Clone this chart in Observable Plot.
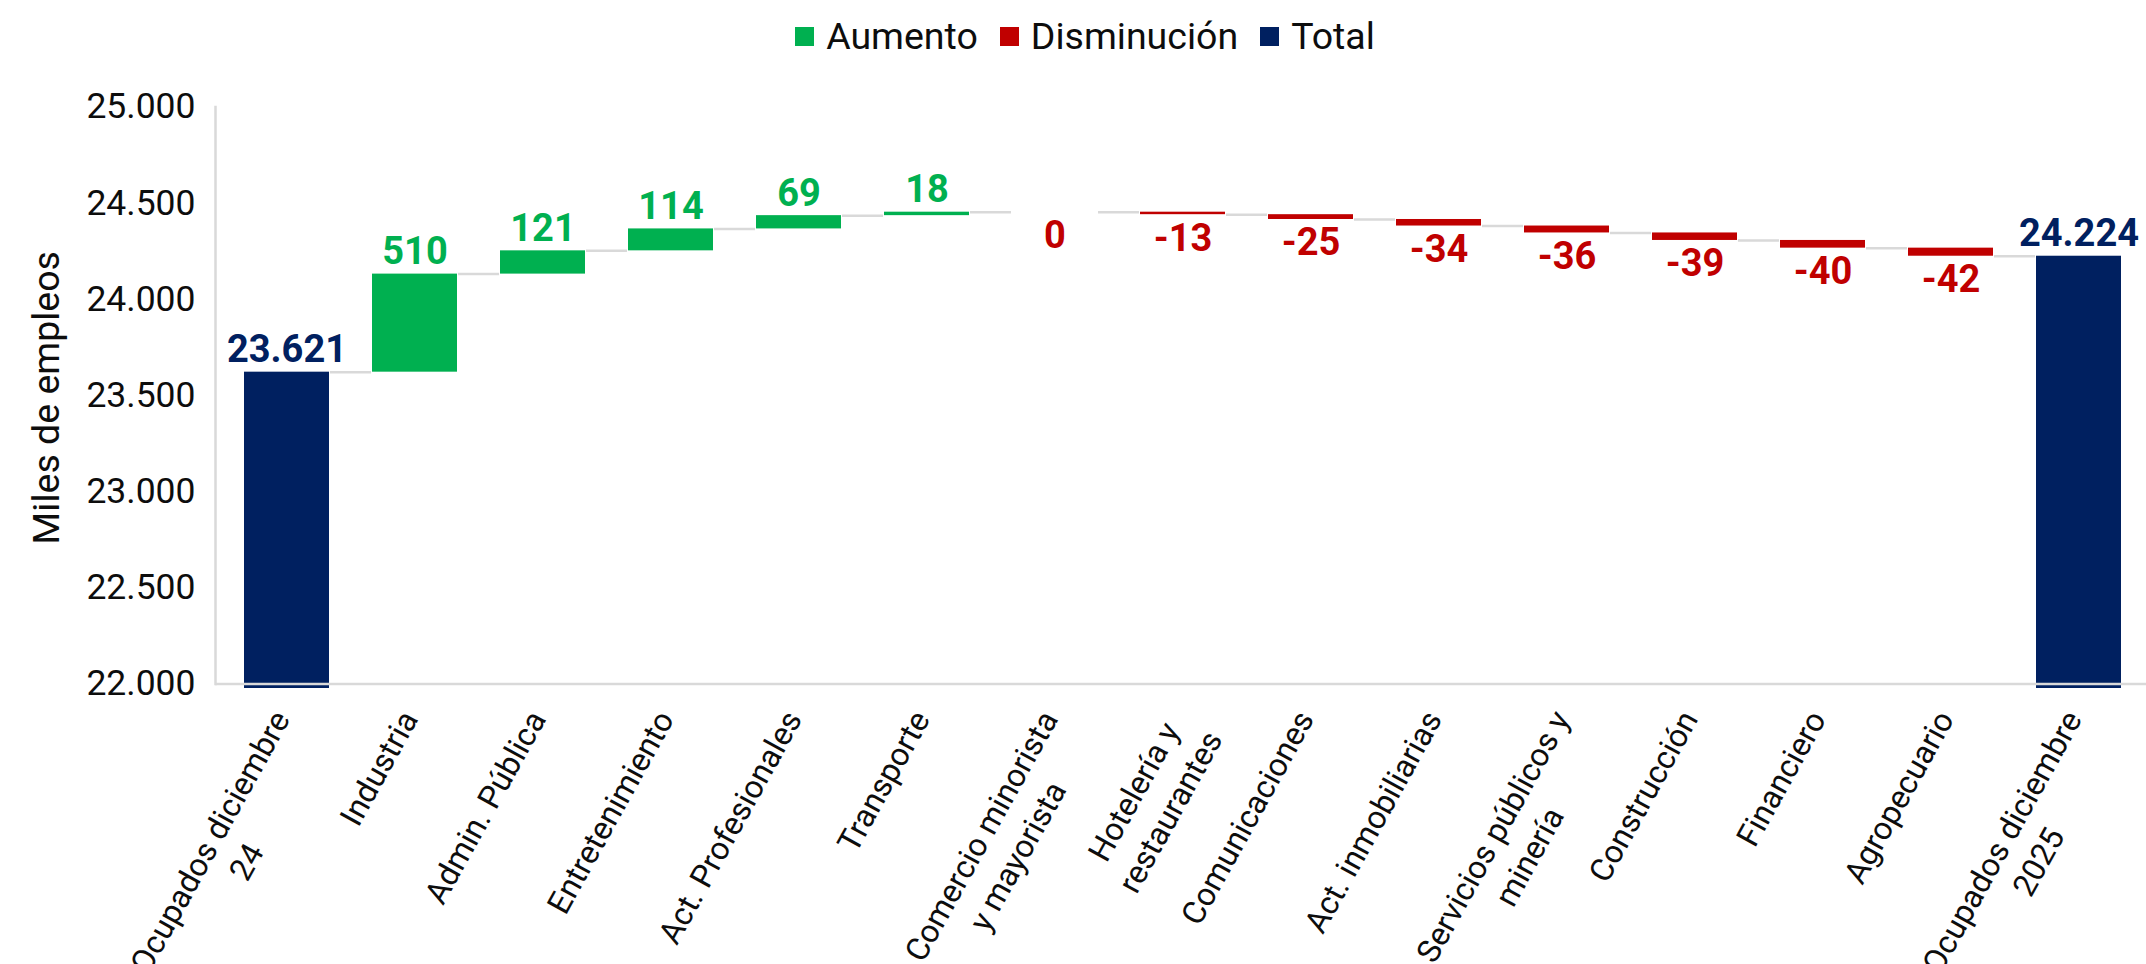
<!DOCTYPE html>
<html>
<head>
<meta charset="utf-8">
<script src="https://cdn.jsdelivr.net/npm/d3@7"></script>
<script src="https://cdn.jsdelivr.net/npm/@observablehq/plot@0.6"></script>
<style>
html, body { margin: 0; padding: 0; background: #fff; }
body { width: 2146px; height: 964px; overflow: hidden; font-family: Roboto, sans-serif; }
#legend { height: 72px; display: flex; align-items: center; justify-content: center; padding-left: 46px; box-sizing: border-box; font-size: 37.5px; color: #0d0d0d; }
.item { display: flex; align-items: center; margin-right: 22px; }
.sw { width: 19px; height: 19px; margin-right: 12px; }
</style>
</head>
<body>
<div id="legend"></div>
<div id="chart"></div>
<script>
// ---- data ----
const categories = [
  "Ocupados diciembre\n24", "Industria", "Admin. Pública", "Entretenimiento",
  "Act. Profesionales", "Transporte", "Comercio minorista\ny mayorista",
  "Hotelería y\nrestaurantes", "Comunicaciones", "Act. inmobiliarias",
  "Servicios públicos y\nminería", "Construcción", "Financiero", "Agropecuario",
  "Ocupados diciembre\n2025"
];
const startTotal = 23621;
const changes = [510, 121, 114, 69, 18, 0, -13, -25, -34, -36, -39, -40, -42];
const endTotal = 24224;
const seriesNames = ["Aumento", "Disminución", "Total"];
const seriesColors = ["#00B050", "#C00000", "#002060"];
const yTicks = [22000, 22500, 23000, 23500, 24000, 24500, 25000];
const yTitle = "Miles de empleos";

// ---- derived table ----
const fmt = d3.formatLocale({decimal: ",", thousands: ".", grouping: [3], currency: ["", ""], minus: "-"}).format(",d");
const rows = [];
let level = startTotal;
rows.push({cat: categories[0], type: "Total", y1: 0, y2: startTotal, value: startTotal});
changes.forEach((c, i) => {
  rows.push({cat: categories[i + 1], type: c > 0 ? "Aumento" : "Disminución", y1: level, y2: level + c, value: c});
  level += c;
});
rows.push({cat: categories[categories.length - 1], type: "Total", y1: 0, y2: endTotal, value: endTotal});
rows.forEach(r => { r.top = Math.max(r.y1, r.y2); r.bottom = Math.min(r.y1, r.y2); });
const conns = rows.slice(0, -1).map((r, i) => ({a: r.cat, b: rows[i + 1].cat, y: r.y2}));
const up = rows.filter(r => r.type !== "Disminución");
const down = rows.filter(r => r.type === "Disminución");

// ---- legend ----
const legend = document.getElementById("legend");
seriesNames.forEach((n, i) => {
  const it = document.createElement("div"); it.className = "item";
  const sw = document.createElement("div"); sw.className = "sw"; sw.style.background = seriesColors[i];
  const tx = document.createElement("span"); tx.textContent = n;
  it.append(sw, tx); legend.append(it);
});

// ---- chart ----
const chart = Plot.plot({
  width: 2146, height: 892,
  marginLeft: 215, marginRight: 0, marginTop: 34.5, marginBottom: 276,
  style: {fontFamily: "Roboto, sans-serif", background: "#fff"},
  x: {domain: categories, axis: null, paddingInner: 0.333, paddingOuter: 0.16, align: 0.534},
  y: {domain: [21976, 25000], axis: null},
  color: {domain: seriesNames, range: seriesColors},
  marks: [
    Plot.ruleY(conns, {x1: "a", x2: "b", y: "y", stroke: "#D9D9D9", strokeWidth: 2.5, insetLeft: 86, insetRight: 86}),
    Plot.barY(rows, {x: "cat", y1: "y1", y2: "y2", fill: "type", clip: true}),
    Plot.ruleY([22000], {stroke: "#D9D9D9", strokeWidth: 2.5}),
    Plot.frame({anchor: "left", stroke: "#D9D9D9", strokeWidth: 2.5, insetBottom: 4.6}),
    Plot.axisY({ticks: yTicks, tickFormat: fmt, tickSize: 0, tickPadding: 20, fontSize: 35.5, label: null, fill: "#0d0d0d"}),
    Plot.text([yTitle], {text: d => d, frameAnchor: "left", textAnchor: "middle", lineAnchor: "middle", rotate: -90, dx: -169, fontSize: 37.5, fill: "#0d0d0d"}),
    Plot.text(up, {x: "cat", y: "top", text: d => fmt(d.value), fill: "type", lineAnchor: "bottom", dy: -10, fontSize: 38, fontWeight: "bold"}),
    Plot.text(down, {x: "cat", y: "bottom", text: d => fmt(d.value), fill: "type", lineAnchor: "top", dy: 9, fontSize: 38, fontWeight: "bold"}),
    Plot.text(categories, {x: d => d, text: d => d, frameAnchor: "bottom", rotate: -61, textAnchor: "end", lineAnchor: "top", lineHeight: 1.3, dx: -22, dy: 16, fontSize: 32, fill: "#0d0d0d"})
  ]
});
document.getElementById("chart").append(chart);

// center the lines of multi-line category labels within their block
chart.querySelectorAll("text").forEach(t => {
  const spans = Array.from(t.querySelectorAll("tspan"));
  if (spans.length > 1) {
    const w = spans.map(s => s.getComputedTextLength());
    const m = Math.max(...w);
    spans.forEach((s, i) => s.setAttribute("x", -(m - w[i]) / 2));
  }
});
</script>
</body>
</html>
